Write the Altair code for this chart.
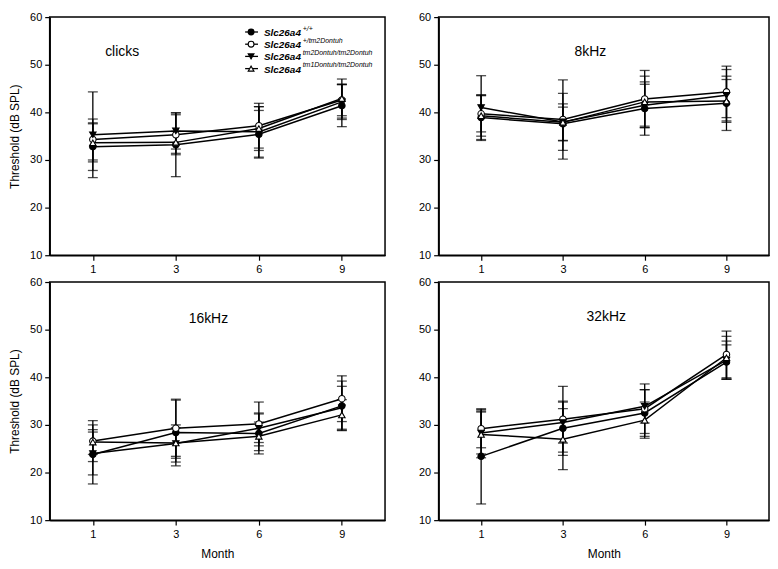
import altair as alt
import pandas as pd

months = [1, 3, 6, 9]
series_names = ["+/+", "+/tm2Dontuh", "tm2Dontuh/tm2Dontuh", "tm1Dontuh/tm2Dontuh"]
shapes = ["circle", "circle", "triangle-down", "triangle-up"]
fills = ["black", "white", "black", "white"]
panel_labels = ["clicks", "8kHz", "16kHz", "32kHz"]

# clicks
clicks_mean = [
    [32.8, 33.2, 35.4, 41.4],
    [34.3, 35.3, 37.2, 42.6],
    [35.3, 36.1, 35.9, 42.2],
    [33.6, 33.7, 36.6, 42.9],
]
clicks_err = [
    [5.0, 6.7, 5.0, 4.4],
    [4.3, 4.2, 4.7, 3.3],
    [9.0, 3.8, 5.3, 3.7],
    [4.0, 2.3, 4.6, 4.1],
]
# 8 kHz
k8_mean = [
    [38.9, 37.6, 40.8, 41.9],
    [39.7, 38.5, 42.8, 44.3],
    [41.0, 38.0, 41.5, 43.6],
    [39.3, 37.9, 42.2, 42.4],
]
k8_err = [
    [4.8, 3.5, 5.6, 5.7],
    [3.8, 8.3, 6.0, 5.4],
    [6.7, 6.0, 4.4, 5.4],
    [4.3, 3.9, 5.4, 4.5],
]
# 16 kHz
k16_mean = [
    [23.8, 28.4, 28.2, 34.0],
    [26.6, 29.3, 30.2, 35.5],
    [24.0, 26.1, 29.3, 33.6],
    [26.4, 26.2, 27.6, 32.1],
]
k16_err = [
    [6.2, 7.0, 4.3, 5.2],
    [4.3, 5.9, 4.6, 4.8],
    [4.5, 3.9, 3.0, 4.5],
    [2.6, 3.2, 3.0, 3.2],
]
# 32 kHz
k32_mean = [
    [23.4, 29.3, 32.5, 43.2],
    [29.2, 31.2, 33.4, 44.8],
    [28.3, 30.5, 33.9, 43.6],
    [28.0, 27.0, 31.0, 44.1],
]
k32_err = [
    [10.0, 5.7, 4.9, 3.6],
    [4.0, 6.9, 5.2, 4.9],
    [4.4, 4.3, 3.5, 4.0],
    [4.9, 6.4, 3.8, 4.5],
]

FONT = "Liberation Sans"
H = 240


def make_df(means, errs):
    rows = []
    for s, name in enumerate(series_names):
        for i, m in enumerate(months):
            rows.append({
                "month": m,
                "series": name,
                "mean": means[s][i],
                "lo": means[s][i] - errs[s][i],
                "hi": means[s][i] + errs[s][i],
            })
    return pd.DataFrame(rows)


def panel(means, errs, label, lx, ly, width, y_title, x_title, legend=False):
    df = make_df(means, errs)
    x_axis = alt.Axis(title=x_title, labelAngle=0, titlePadding=10)
    y_axis = alt.Axis(title=y_title, values=[10, 20, 30, 40, 50, 60], titlePadding=8)
    yscale = alt.Scale(domain=[10, 60], nice=False, zero=False)
    x = alt.X("month:O", sort=months, scale=alt.Scale(type="point", padding=0.52), axis=x_axis)
    base = alt.Chart(df)

    lines = base.mark_line(color="black", strokeWidth=1.5).encode(
        x=x, y=alt.Y("mean:Q", scale=yscale, axis=y_axis), detail="series:N"
    )
    rules = base.mark_rule(color="black", strokeWidth=1.3).encode(
        x=x, y=alt.Y("lo:Q", scale=yscale, axis=y_axis), y2="hi:Q"
    )
    cap_lo = base.mark_tick(color="black", thickness=1.3, size=10, orient="horizontal").encode(
        x=x, y=alt.Y("lo:Q", scale=yscale, axis=y_axis)
    )
    cap_hi = base.mark_tick(color="black", thickness=1.3, size=10, orient="horizontal").encode(
        x=x, y=alt.Y("hi:Q", scale=yscale, axis=y_axis)
    )
    points = base.mark_point(filled=True, size=42, stroke="black", strokeWidth=1.1, opacity=1).encode(
        x=x,
        y=alt.Y("mean:Q", scale=yscale, axis=y_axis),
        shape=alt.Shape("series:N", scale=alt.Scale(domain=series_names, range=shapes), legend=None),
        fill=alt.Fill("series:N", scale=alt.Scale(domain=series_names, range=fills), legend=None),
    )
    text = alt.Chart(pd.DataFrame({"t": [label]})).mark_text(
        font=FONT, fontSize=14, color="black", align="center", baseline="middle"
    ).encode(x=alt.value(lx), y=alt.value(ly), text="t:N")

    layers = [lines, rules, cap_lo, cap_hi, points, text]

    if legend:
        for i, name in enumerate(series_names):
            yy = 15 + i * 12.3
            ldf = pd.DataFrame({"main": ["Slc26a4"], "sup": [name]})
            lb = alt.Chart(ldf)
            layers.append(lb.mark_rule(color="black", strokeWidth=1.3).encode(
                x=alt.value(197), x2=alt.value(210), y=alt.value(yy)))
            layers.append(lb.mark_point(filled=True, size=34, stroke="black", strokeWidth=1.1,
                                        shape=shapes[i], fill=fills[i], opacity=1).encode(
                x=alt.value(203), y=alt.value(yy)))
            layers.append(lb.mark_text(font=FONT, fontSize=10, fontWeight="bold", fontStyle="italic",
                                       color="black", align="left", baseline="middle").encode(
                x=alt.value(216), y=alt.value(yy + 1), text="main:N"))
            layers.append(lb.mark_text(font=FONT, fontSize=7, fontStyle="italic",
                                       color="black", align="left", baseline="middle").encode(
                x=alt.value(255), y=alt.value(yy - 3.5), text="sup:N"))

    return alt.layer(*layers).properties(width=width, height=H)


p1 = panel(clicks_mean, clicks_err, panel_labels[0], 73, 35, 338, "Threshold (dB SPL)", None, legend=True)
p2 = panel(k8_mean, k8_err, panel_labels[1], 153, 35, 333, None, None)
p3 = panel(k16_mean, k16_err, panel_labels[2], 160, 37, 338, "Threshold (dB SPL)", "Month")
p4 = panel(k32_mean, k32_err, panel_labels[3], 169, 35, 333, None, "Month")

row1 = alt.hconcat(p1, p2, spacing=32)
row2 = alt.hconcat(p3, p4, spacing=32)

chart = alt.vconcat(row1, row2, spacing=0).properties(
    padding={"left": 0, "top": 0, "right": 0, "bottom": 0}
).configure_view(
    stroke="black", strokeWidth=1.5
).configure_axis(
    domainColor="black", domainWidth=1.5, tickColor="black", tickWidth=1.2, tickSize=5,
    labelColor="black", labelFont=FONT, labelFontSize=11, labelPadding=3,
    titleFont=FONT, titleFontSize=12, titleColor="black", titleFontWeight="normal", grid=False
)

chart.save("out.html", embed_options={"renderer": "svg", "actions": False})
